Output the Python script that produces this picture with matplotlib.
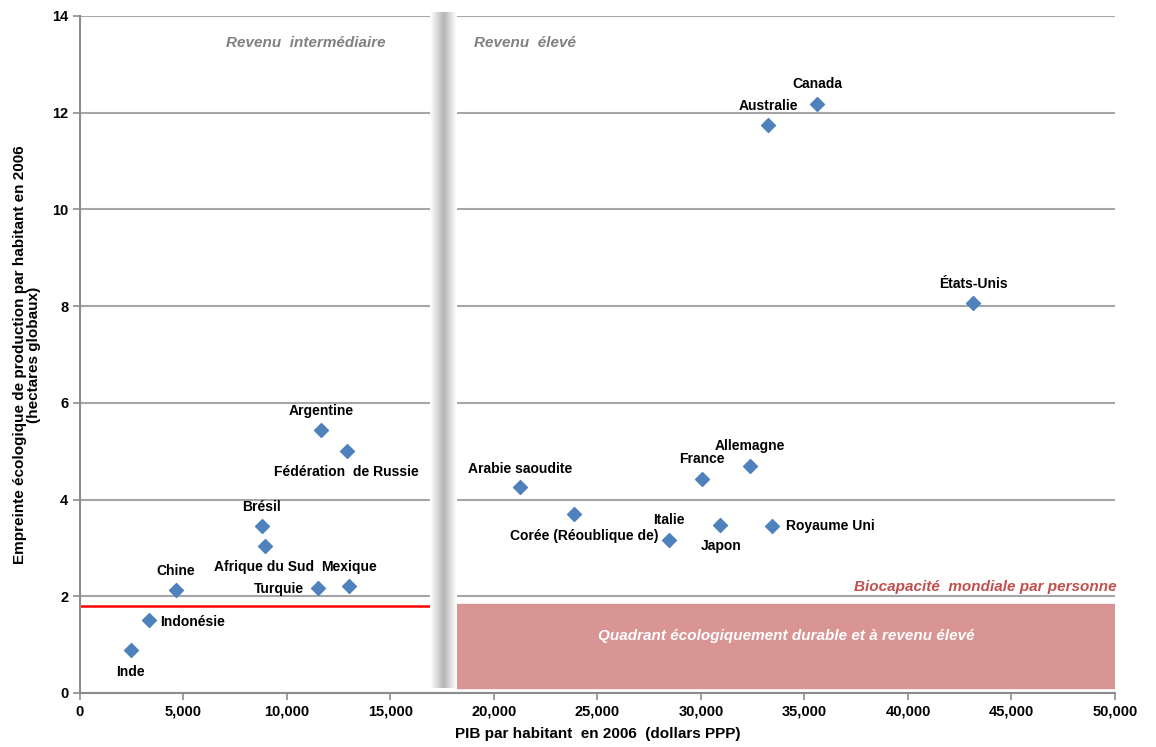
import numpy as np
import matplotlib.pyplot as plt
from matplotlib.ticker import FuncFormatter

plt.rcParams['font.family'] = ['Liberation Sans', 'DejaVu Sans']

# PIB par habitant (dollars PPP) et empreinte (hag par personne), 2006
pays = ["Inde", "Indonésie", "Chine", "Brésil", "Afrique du Sud", "Turquie",
        "Mexique", "Argentine", "Fédération  de Russie", "Arabie saoudite",
        "Corée (Réoublique de)", "Italie", "Japon", "France", "Allemagne",
        "Royaume Uni", "Australie", "Canada", "États-Unis"]
pib = [2460, 3330, 4640, 8790, 8940, 11500, 13000, 11640, 12900, 21260,
       23860, 28450, 30920, 30050, 32370, 33430, 33240, 35600, 43140]
empreinte = [0.89, 1.51, 2.13, 3.45, 3.04, 2.17, 2.21, 5.44, 5.00, 4.26,
             3.70, 3.16, 3.47, 4.42, 4.69, 3.45, 11.75, 12.18, 8.06]

# position des étiquettes (pixels) et alignement
decalages = {
    "Inde": (0, -22, "center"), "Indonésie": (11, -2, "left"),
    "Chine": (0, 19, "center"), "Brésil": (0, 19, "center"),
    "Afrique du Sud": (-1, -21, "center"), "Turquie": (-14, -1, "right"),
    "Mexique": (0, 19, "center"), "Argentine": (0, 19, "center"),
    "Fédération  de Russie": (-1, -21, "center"),
    "Arabie saoudite": (0, 18, "center"),
    "Corée (Réoublique de)": (10, -22, "center"), "Italie": (0, 20, "center"),
    "Japon": (1, -21, "center"), "France": (0, 20, "center"),
    "Allemagne": (0, 20, "center"), "Royaume Uni": (14, 0, "left"),
    "Australie": (0, 19, "center"), "Canada": (0, 20, "center"),
    "États-Unis": (0, 19, "center"),
}

biocapacite = 1.8
separation = (16900, 18200)

fig = plt.figure(figsize=(11.56, 7.47), dpi=100)
ax = fig.add_axes([0.0692, 0.0723, 0.8953, 0.9063])
ax.set_xlim(0, 50000)
ax.set_ylim(0, 14)

ax.set_yticks(range(0, 15, 2))
ax.set_xticks(range(0, 50001, 5000))
ax.xaxis.set_major_formatter(FuncFormatter(lambda v, p: f"{int(v):,}"))
ax.grid(axis="y", color="#a6a6a6", linewidth=1.5, zorder=0)
ax.set_axisbelow(True)
for s in ["top", "right"]:
    ax.spines[s].set_visible(False)
for s in ["left", "bottom"]:
    ax.spines[s].set_color("#8c8c8c")
    ax.spines[s].set_linewidth(1.5)
ax.tick_params(axis="both", colors="#8c8c8c", width=1.2, length=5,
               labelcolor="black", labelsize=10.5)
for lab in ax.get_xticklabels() + ax.get_yticklabels():
    lab.set_fontweight("bold")

# zone durable à revenu élevé
ax.add_patch(plt.Rectangle((separation[1], 0.1), 50000 - separation[1],
                           biocapacite - 0.06, color="#d99594", zorder=1))
ax.text((separation[1] + 50000) / 2, 1.17,
        "Quadrant écologiquement durable et à revenu élevé",
        color="white", fontsize=11, fontweight="bold", fontstyle="italic",
        ha="center", va="center", zorder=2)
ax.text(50100, 2.2, "Biocapacité  mondiale par personne", color="#c0504d",
        fontsize=11, fontweight="bold", fontstyle="italic", ha="right",
        va="center")
ax.plot([0, separation[0]], [biocapacite, biocapacite], color="red",
        linewidth=1.8, zorder=2)

# barre de séparation en dégradé (blanc aux bords, gris au centre)
profil = np.concatenate([np.linspace(1.0, 0.72, 14), np.linspace(0.72, 1.0, 13)])
grad = np.tile(profil, (2, 1))
ax.imshow(grad, cmap="gray", vmin=0, vmax=1, aspect="auto",
          extent=(separation[0], separation[1], 0.11, 14.07),
          zorder=3, clip_on=False, interpolation="bilinear")
ax.set_xlim(0, 50000)
ax.set_ylim(0, 14)

ax.text(10900, 13.45, "Revenu  intermédiaire", color="#808080", fontsize=11,
        fontweight="bold", fontstyle="italic", ha="center", va="center")
ax.text(21500, 13.45, "Revenu  élevé", color="#808080", fontsize=11,
        fontweight="bold", fontstyle="italic", ha="center", va="center")

ax.scatter(pib, empreinte, marker="D", s=50, color="#4f81bd", zorder=4)
for nom, x, y in zip(pays, pib, empreinte):
    dx, dy, ha = decalages[nom]
    ax.annotate(nom, (x, y), xytext=(dx, dy), textcoords="offset pixels",
                ha=ha, va="center", fontsize=10, fontweight="bold", zorder=5)

ax.set_xlabel("PIB par habitant  en 2006  (dollars PPP)", fontsize=11,
              fontweight="bold", labelpad=6)
ax.set_ylabel("Empreinte écologique de production par habitant en 2006\n"
              "(hectares globaux)", fontsize=11, fontweight="bold",
              labelpad=8, linespacing=1.0)

fig.savefig("out.png", dpi=100)
